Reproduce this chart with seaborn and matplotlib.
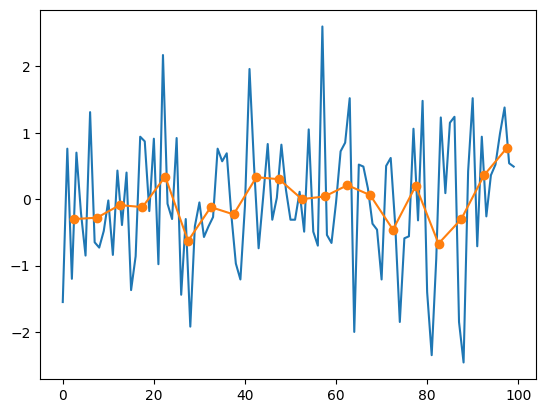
import matplotlib
matplotlib.use("Agg")
import matplotlib.pyplot as plt
import seaborn as sns
import numpy as np

# Blue series: 100 raw values (x = 0..99)
x_raw = list(range(100))
y_raw = [
    -1.55, 0.76, -1.20, 0.70, -0.21, -0.85, 1.31, -0.65, -0.73, -0.48,
    -0.02, -0.84, 0.43, -0.39, 0.40, -1.37, -0.86, 0.94, 0.87, -0.18,
    0.91, -0.98, 2.17, -0.07, -0.30, 0.92, -1.44, -0.30, -1.92, -0.41,
    -0.05, -0.57, -0.41, -0.27, 0.76, 0.57, 0.69, -0.23, -0.97, -1.21,
    -0.10, 1.96, 0.50, -0.74, 0.03, 0.83, -0.31, 0.02, 0.82, 0.14,
    -0.31, -0.31, 0.11, -0.49, 1.05, -0.49, -0.70, 2.60, -0.54, -0.66,
    -0.05, 0.72, 0.85, 1.52, -2.00, 0.52, 0.49, 0.16, -0.37, -0.46,
    -1.21, 0.50, 0.62, -0.40, -1.85, -0.59, -0.56, 1.06, -0.32, 1.48,
    -1.40, -2.35, -0.90, 1.23, 0.09, 1.15, 1.24, -1.85, -2.46, 0.42,
    1.52, -0.71, 0.94, -0.26, 0.36, 0.52, 0.99, 1.38, 0.54, 0.49,
]

# Orange series: block averages
x_avg = [2.5, 7.5, 12.5, 17.5, 22.5, 27.5, 32.5, 37.5, 42.5, 47.5,
         52.5, 57.5, 62.5, 67.5, 72.5, 77.5, 82.5, 87.5, 92.5, 97.5]
y_avg = [-0.30, -0.28, -0.09, -0.12, 0.34, -0.63, -0.12, -0.23, 0.33, 0.30,
         0.00, 0.04, 0.21, 0.06, -0.46, 0.20, -0.67, -0.30, 0.36, 0.77]

fig, ax = plt.subplots(figsize=(6.4, 4.8), dpi=100)
sns.lineplot(x=x_raw, y=y_raw, ax=ax, color="C0", linewidth=1.5)
sns.lineplot(x=x_avg, y=y_avg, ax=ax, color="C1", linewidth=1.5,
             marker="o", markersize=6, markeredgecolor="C1", markeredgewidth=1)

fig.savefig("out.png", dpi=100, bbox_inches="tight")
